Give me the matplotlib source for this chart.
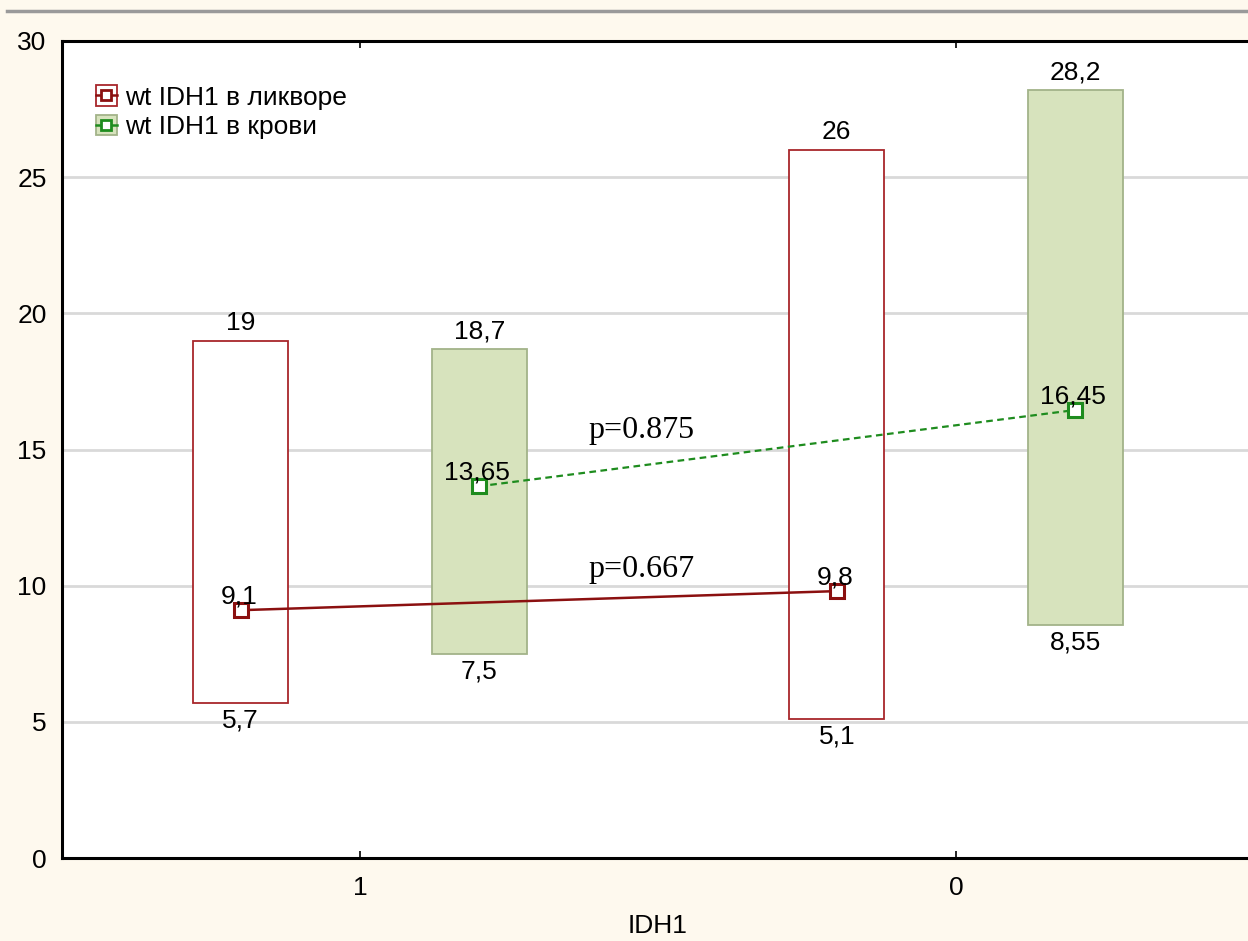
import numpy as np
import matplotlib.pyplot as plt
from matplotlib.patches import Patch
from matplotlib.lines import Line2D

plt.rcParams['font.family'] = ['Liberation Sans', 'DejaVu Sans']

groups = ['1', '0']
csf_median = [9.1, 9.8]
csf_low = [5.7, 5.1]
csf_high = [19, 26]
blood_median = [13.65, 16.45]
blood_low = [7.5, 8.55]
blood_high = [18.7, 28.2]
p_labels = ['p=0.667', 'p=0.875']
p_y = [10.6, 15.7]

red = '#8b1010'
red_edge = '#a8262b'
green = '#1e8c1e'
green_fill = '#d7e3bd'
green_edge = '#a2b389'
bg = '#fef9ee'


def fmt(v):
    return f'{v:g}'.replace('.', ',')


fig = plt.figure(figsize=(12.48, 9.41), dpi=100, facecolor=bg)
ax = fig.add_axes([62 / 1248, 83 / 941, (1254 - 62) / 1248, (858 - 41) / 941])
ax.set_facecolor('white')

x = np.arange(len(groups))
off = 0.2
w = 0.16

ax.bar(x - off, np.subtract(csf_high, csf_low), bottom=csf_low, width=w,
       facecolor='white', edgecolor=red_edge, linewidth=1.3, zorder=2)
ax.bar(x + off, np.subtract(blood_high, blood_low), bottom=blood_low, width=w,
       facecolor=green_fill, edgecolor=green_edge, linewidth=1.3, zorder=2)

ax.plot(x - off, csf_median, color=red, lw=1.8, marker='s', ms=10,
        mfc='white', mec=red, mew=2.2, zorder=3)
ax.plot(x + off, blood_median, color=green, lw=1.6, ls=(0, (3, 2)), marker='s',
        ms=10, mfc='white', mec=green, mew=2.2, zorder=3)

fs = 19
for xi, lo, hi, med in zip(x - off, csf_low, csf_high, csf_median):
    ax.text(xi, hi + 0.2, fmt(hi), ha='center', va='bottom', fontsize=fs, zorder=4)
    ax.text(xi, lo - 0.2, fmt(lo), ha='center', va='top', fontsize=fs, zorder=4)
    ax.text(xi - 0.003, med + 0.05, fmt(med), ha='center', va='bottom', fontsize=fs, zorder=4)
for xi, lo, hi, med in zip(x + off, blood_low, blood_high, blood_median):
    ax.text(xi, hi + 0.2, fmt(hi), ha='center', va='bottom', fontsize=fs, zorder=4)
    ax.text(xi, lo - 0.2, fmt(lo), ha='center', va='top', fontsize=fs, zorder=4)
    ax.text(xi - 0.003, med + 0.05, fmt(med), ha='center', va='bottom', fontsize=fs, zorder=4)

for lab, yy in zip(p_labels, p_y):
    ax.text(0.473, yy, lab, ha='center', va='center', fontsize=23,
            family='Liberation Serif', zorder=4)

ax.set_xlim(-0.5, 1.5)
ax.set_ylim(0, 30)
ax.set_xticks(x)
ax.set_xticklabels(groups)
ax.set_yticks(range(0, 31, 5))
ax.yaxis.grid(True, color='#d9d9d9', lw=2)
ax.set_axisbelow(True)
ax.tick_params(axis='x', direction='in', top=True, length=5, width=1.2,
               labelsize=fs, pad=13)
ax.tick_params(axis='y', length=0, labelsize=fs, pad=11)
ax.set_xlabel('IDH1', fontsize=fs, labelpad=10)
for s in ['left', 'bottom', 'top']:
    ax.spines[s].set_linewidth(2.2)
ax.spines['right'].set_visible(False)

h_csf = (Patch(facecolor='white', edgecolor=red_edge, lw=1.3),
         Line2D([], [], color=red, lw=1.8, marker='s', ms=7, mfc='white', mec=red, mew=2))
h_blood = (Patch(facecolor=green_fill, edgecolor=green_edge, lw=1.3),
           Line2D([], [], color=green, lw=1.8, marker='s', ms=7, mfc='white', mec=green, mew=2))
ax.legend([h_csf, h_blood], ['wt IDH1 в ликворе', 'wt IDH1 в крови'],
          loc='upper left', bbox_to_anchor=(0.015, 0.965), frameon=False,
          fontsize=fs, handlelength=0.8, handleheight=0.8, handletextpad=0.3,
          labelspacing=0.2, borderaxespad=0.2)

# thin gray frame line across the top of the window
fig.add_artist(Line2D([7 / 1248, 1], [1 - 11 / 941] * 2, color='#9a9a9a', lw=2.5,
                      transform=fig.transFigure))

fig.savefig('out.png', dpi=100, facecolor=bg)
